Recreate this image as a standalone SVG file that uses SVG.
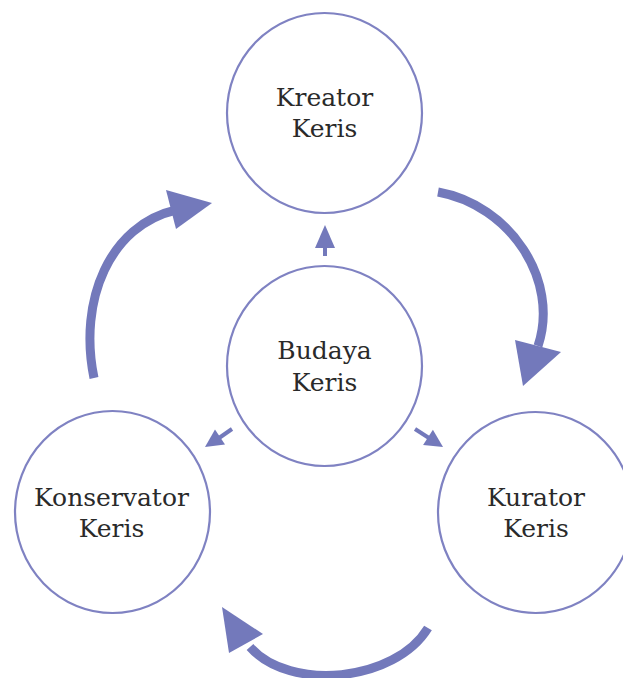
<svg xmlns="http://www.w3.org/2000/svg" width="623" height="678" viewBox="0 0 623 678">
<style>
.node{fill:#ffffff;stroke:#7f82c2;stroke-width:2.2}
.lbl{font-family:"DejaVu Serif","Liberation Serif",serif;font-size:25px;fill:#2a2a2a;text-anchor:middle}
.big{fill:none;stroke:#7379bb;stroke-width:9;stroke-linecap:butt}
.small{fill:none;stroke:#7379bb;stroke-width:4}
.head{fill:#7379bb}
</style>
<rect width="623" height="678" fill="#ffffff"/>
<g id="connectors">
<path class="big" d="M 94 378 C 78 300, 110 225, 176 210"/>
<polygon class="head" points="212,203 166,190 176,229"/>
<path class="big" d="M 438 192 C 510 205, 560 280, 538 346"/>
<polygon class="head" points="523,386 515,340 561,352"/>
<path class="big" d="M 428 628 C 395 682, 290 692, 250 647"/>
<polygon class="head" points="222,607 229,653 263,634"/>
<line class="small" x1="325" y1="256" x2="325" y2="246"/>
<polygon class="head" points="325,225 315,248 335,248"/>
<line class="small" x1="232" y1="429" x2="219" y2="438"/>
<polygon class="head" points="205,447 225,444.5 215,429.5"/>
<line class="small" x1="415" y1="429" x2="429" y2="438"/>
<polygon class="head" points="443,447 423.1,444.9 432.9,429.7"/>
</g>
<g id="kreator">
<ellipse class="node" cx="324.5" cy="113" rx="97.5" ry="100"/>
<text class="lbl" x="324.5" y="106">Kreator</text>
<text class="lbl" x="324.5" y="137">Keris</text>
</g>
<g id="budaya">
<ellipse class="node" cx="324.5" cy="366" rx="97.5" ry="100"/>
<text class="lbl" x="324.5" y="359">Budaya</text>
<text class="lbl" x="324.5" y="391">Keris</text>
</g>
<g id="konservator">
<ellipse class="node" cx="112.5" cy="512" rx="97.5" ry="101"/>
<text class="lbl" x="111.5" y="506">Konservator</text>
<text class="lbl" x="111.5" y="537">Keris</text>
</g>
<g id="kurator">
<ellipse class="node" cx="535.5" cy="512.5" rx="97.5" ry="100.5"/>
<text class="lbl" x="536" y="506">Kurator</text>
<text class="lbl" x="536" y="537">Keris</text>
</g>
</svg>
